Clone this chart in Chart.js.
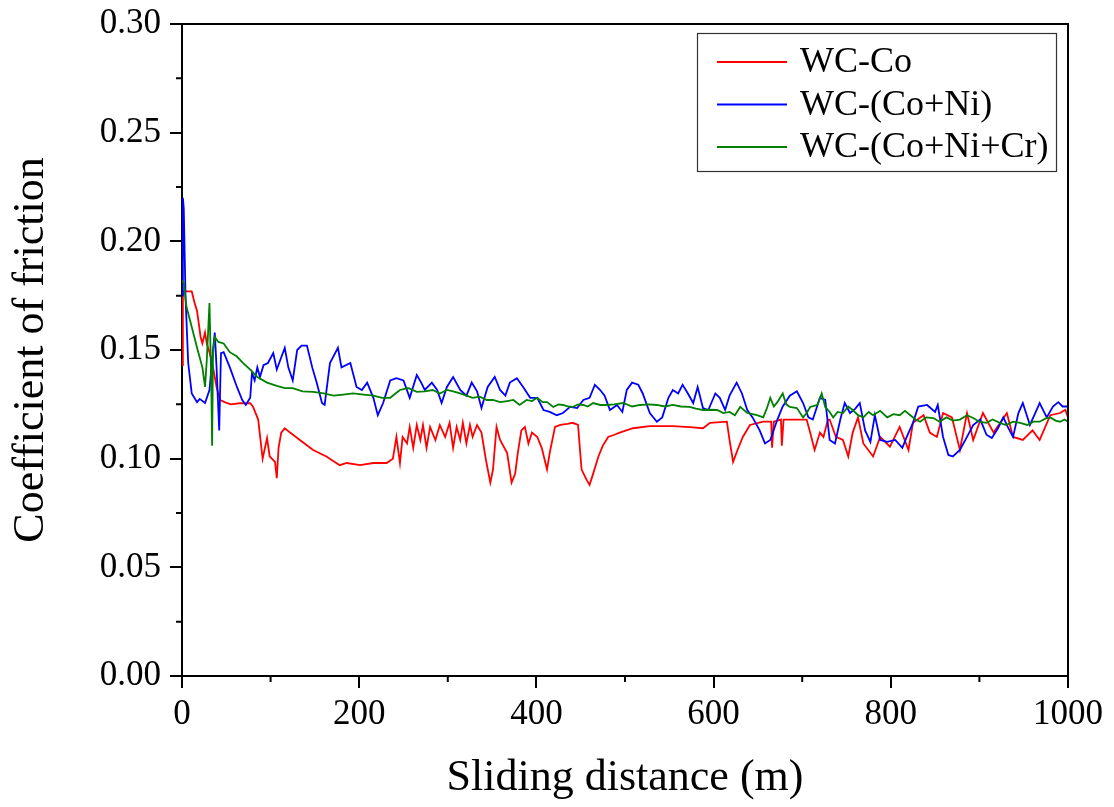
<!DOCTYPE html>
<html>
<head>
<meta charset="utf-8">
<script src="https://cdn.jsdelivr.net/npm/chart.js@4.4.1/dist/chart.umd.min.js"></script>
<style>
html,body{margin:0;padding:0;background:#fff;}
#wrap{width:1114px;height:807px;}
</style>
</head>
<body>
<div id="wrap"><canvas id="c" width="1114" height="807"></canvas></div>
<script>
const seriesNames = ["WC-Co", "WC-(Co+Ni)", "WC-(Co+Ni+Cr)"];
const xTitle = "Sliding distance (m)";
const yTitle = "Coefficient of friction";

const coX = [0,1,5,11,14,17,21,23,26,28,31,35,39,43,48,55,65,77,80,86,91,96,99,105,107,109,112,116,122,133,148,163,178,186,201,216,231,238,240,242,246,249,254,257,261,265,269,272,276,280,286,291,297,302,306,310,314,317,321,325,328,333,338,343,348,351,355,359,367,372,376,379,383,387,391,395,401,406,412,415,421,427,435,441,447,449,451,457,460,464,470,475,481,488,494,509,528,554,573,588,596,615,618,622,627,633,641,656,665,666,668,676,677,679,686,705,709,714,720,724,729,731,738,746,752,757,763,769,780,788,799,810,820,825,837,844,852,859,869,878,886,893,904,916,931,938,949,960,968,980,991,997,1000];
const coY = [0.143,0.177,0.177,0.177,0.172,0.168,0.156,0.153,0.158,0.153,0.149,0.142,0.133,0.127,0.126,0.125,0.1255,0.1255,0.124,0.118,0.100,0.1095,0.101,0.0985,0.091,0.105,0.112,0.114,0.112,0.1086,0.104,0.101,0.097,0.098,0.097,0.098,0.098,0.100,0.105,0.110,0.098,0.110,0.107,0.1146,0.105,0.1155,0.1086,0.1155,0.105,0.1146,0.1086,0.1155,0.110,0.1165,0.105,0.1146,0.1086,0.1165,0.107,0.1155,0.110,0.1155,0.112,0.0995,0.089,0.095,0.1146,0.1086,0.1026,0.089,0.093,0.1026,0.113,0.1146,0.107,0.112,0.110,0.105,0.095,0.1026,0.1146,0.1155,0.116,0.1165,0.1155,0.105,0.095,0.090,0.088,0.093,0.101,0.106,0.110,0.111,0.112,0.114,0.115,0.115,0.1145,0.114,0.1165,0.117,0.1085,0.0985,0.104,0.110,0.1155,0.117,0.117,0.105,0.117,0.118,0.106,0.118,0.118,0.118,0.112,0.104,0.112,0.110,0.118,0.118,0.110,0.1086,0.101,0.112,0.119,0.107,0.101,0.110,0.1055,0.1146,0.104,0.1165,0.120,0.112,0.110,0.121,0.119,0.104,0.121,0.1086,0.121,0.112,0.121,0.110,0.1086,0.113,0.1086,0.120,0.121,0.1225,0.119];

const coNiX = [0,1,2,4,7,11,17,20,26,31,35,37,39,42,44,47,54,62,68,72,77,79,82,85,88,92,97,103,107,111,116,120,125,130,135,141,147,152,158,161,167,176,180,190,197,203,209,216,221,227,235,242,250,257,265,270,274,282,288,293,299,306,314,321,327,333,338,345,353,359,365,370,378,385,393,401,408,415,423,430,438,446,453,460,466,472,477,483,491,497,502,508,515,520,528,536,542,549,554,560,565,571,577,582,588,594,602,607,613,618,626,632,638,644,652,658,664,672,678,686,694,701,707,712,720,726,731,737,743,748,754,760,765,771,777,782,788,796,805,813,818,825,831,841,850,853,859,865,870,878,886,893,901,908,914,921,927,932,938,944,949,957,963,968,976,983,989,994,1000];
const coNiY = [0.175,0.220,0.215,0.174,0.144,0.130,0.126,0.1275,0.1256,0.1316,0.150,0.158,0.142,0.113,0.1486,0.149,0.142,0.133,0.127,0.1247,0.128,0.1394,0.136,0.142,0.1376,0.143,0.144,0.1486,0.141,0.1455,0.151,0.142,0.136,0.150,0.152,0.152,0.142,0.135,0.1256,0.1247,0.144,0.151,0.142,0.144,0.133,0.1316,0.135,0.128,0.120,0.1256,0.136,0.137,0.136,0.128,0.1385,0.135,0.1316,0.135,0.1316,0.1256,0.133,0.1376,0.1316,0.129,0.135,0.131,0.1233,0.133,0.1376,0.1316,0.129,0.135,0.137,0.133,0.128,0.128,0.1224,0.1215,0.120,0.121,0.1238,0.1233,0.127,0.128,0.134,0.1316,0.129,0.1224,0.1247,0.1215,0.1316,0.135,0.134,0.130,0.121,0.117,0.119,0.128,0.1316,0.130,0.134,0.130,0.1256,0.133,0.1233,0.1224,0.130,0.128,0.1224,0.129,0.135,0.130,0.1224,0.119,0.113,0.107,0.1086,0.118,0.124,0.129,0.131,0.1256,0.119,0.118,0.128,0.127,0.1086,0.107,0.118,0.1256,0.121,0.123,0.1256,0.113,0.1077,0.120,0.1086,0.1077,0.1086,0.105,0.110,0.1165,0.124,0.1247,0.1215,0.1247,0.110,0.1017,0.101,0.104,0.110,0.1155,0.118,0.111,0.1095,0.114,0.119,0.1146,0.110,0.121,0.1256,0.1155,0.121,0.1256,0.119,0.124,0.126,0.124,0.124];

const coNiCrX = [0,2,5,11,17,23,26,28,31,33,34,35,37,41,47,54,62,69,77,85,96,107,116,125,136,148,160,171,182,193,205,216,226,235,241,246,255,265,274,283,291,299,306,314,321,328,336,344,351,359,367,374,381,389,395,401,407,412,419,425,430,436,441,447,453,458,464,472,479,488,498,508,517,527,536,545,554,563,573,580,588,596,604,611,618,624,630,638,644,649,656,660,664,668,672,678,682,686,694,701,705,709,717,722,726,731,735,740,746,752,757,763,769,775,780,788,796,803,810,816,822,828,833,840,848,855,863,870,878,886,893,900,908,915,923,930,938,946,954,961,968,975,980,986,991,996,1000];
const coNiCrY = [0.182,0.181,0.170,0.1606,0.151,0.142,0.133,0.1455,0.1716,0.136,0.106,0.1486,0.156,0.1537,0.153,0.149,0.147,0.144,0.141,0.1376,0.135,0.1335,0.1325,0.1325,0.131,0.1307,0.130,0.129,0.1295,0.130,0.1295,0.129,0.128,0.128,0.130,0.1316,0.1325,0.1307,0.131,0.1316,0.130,0.1316,0.131,0.130,0.129,0.128,0.1285,0.127,0.127,0.126,0.1265,0.127,0.1247,0.127,0.1265,0.128,0.126,0.126,0.1238,0.125,0.1247,0.124,0.1238,0.125,0.1247,0.124,0.1256,0.1247,0.1247,0.125,0.1256,0.124,0.1247,0.125,0.1247,0.124,0.1247,0.124,0.1238,0.123,0.1224,0.1225,0.1224,0.121,0.1215,0.120,0.1238,0.121,0.1205,0.120,0.119,0.123,0.128,0.124,0.126,0.130,0.125,0.1238,0.1233,0.119,0.121,0.1238,0.1247,0.130,0.1238,0.1215,0.119,0.1215,0.121,0.124,0.1224,0.120,0.119,0.1215,0.120,0.122,0.119,0.1205,0.120,0.122,0.120,0.118,0.117,0.119,0.1187,0.117,0.119,0.1175,0.118,0.120,0.1187,0.117,0.1165,0.118,0.1165,0.1155,0.117,0.1165,0.1155,0.117,0.117,0.1185,0.119,0.1175,0.117,0.118,0.117];

const xTicks = [0,200,400,600,800,1000];
const yTicks = [0.00,0.05,0.10,0.15,0.20,0.25,0.30];
const xMinorTicks = [100,300,500,700,900];
const yMinorTicks = [0.025,0.075,0.125,0.175,0.225,0.275];

const colors = ["#ff0000", "#0000ff", "#008000"];
const FONT = "'Liberation Serif', 'Times New Roman', serif";

function pts(xs, ys){ return xs.map((x,i)=>({x:x, y:ys[i]})); }

const framePlugin = {
  id: 'frame',
  afterDatasetsDraw(chart){
    const {ctx, chartArea:a, scales} = chart;
    ctx.save();
    ctx.strokeStyle = '#000';
    ctx.lineWidth = 2;
    ctx.beginPath();
    ctx.moveTo(a.left, a.top); ctx.lineTo(a.right, a.top); ctx.lineTo(a.right, a.bottom);
    ctx.stroke();
    // minor ticks
    ctx.beginPath();
    yMinorTicks.forEach(v=>{ const p = scales.y.getPixelForValue(v); ctx.moveTo(a.left-6, p); ctx.lineTo(a.left, p); });
    xMinorTicks.forEach(v=>{ const p = scales.x.getPixelForValue(v); ctx.moveTo(p, a.bottom); ctx.lineTo(p, a.bottom+6); });
    ctx.stroke();
    // legend
    const bx0 = a.right - 371, by0 = a.top + 9, bw = 359, bh = 138;
    ctx.fillStyle = '#fff';
    ctx.fillRect(bx0, by0, bw, bh);
    ctx.lineWidth = 1.2;
    ctx.strokeStyle = '#333';
    ctx.strokeRect(bx0+0.5, by0+0.5, bw, bh);
    ctx.font = "36px " + FONT;
    ctx.textBaseline = 'middle';
    ctx.textAlign = 'left';
    chart.data.datasets.forEach((ds, i)=>{
      const yy = by0 + 29 + i*42.5;
      ctx.strokeStyle = ds.borderColor;
      ctx.lineWidth = 1.8;
      ctx.beginPath(); ctx.moveTo(bx0+20, yy); ctx.lineTo(bx0+90, yy); ctx.stroke();
      ctx.fillStyle = '#000';
      ctx.fillText(ds.label, bx0+103, yy+1);
    });
    ctx.restore();
  }
};

new Chart(document.getElementById('c'), {
  type: 'line',
  data: {
    datasets: [
      {label: seriesNames[0], data: pts(coX, coY), borderColor: colors[0], order: 2},
      {label: seriesNames[1], data: pts(coNiX, coNiY), borderColor: colors[1], order: 1},
      {label: seriesNames[2], data: pts(coNiCrX, coNiCrY), borderColor: colors[2], order: 0}
    ]
  },
  options: {
    responsive: false,
    animation: false,
    elements: { point: {radius: 0}, line: {borderWidth: 1.8, tension: 0, fill: false} },
    layout: { padding: {left: 0, top: 24, right: 46, bottom: 0} },
    plugins: { legend: {display: false}, tooltip: {enabled: false} },
    scales: {
      x: {
        type: 'linear', min: 0, max: 1000,
        afterBuildTicks(s){ s.ticks = xTicks.map(v=>({value:v})); },
        afterFit(s){ s.height = 131; s.paddingLeft = 0; s.paddingRight = 0; },
        border: {display: true, color: '#000', width: 2},
        grid: {display: true, drawOnChartArea: false, drawTicks: true, tickLength: 12, color: '#000', lineWidth: 2},
        ticks: {color: '#000', font: {family: FONT, size: 35}, padding: 6, maxRotation: 0, callback: v => String(v)},
        title: {display: true, text: xTitle, color: '#000', font: {family: FONT, size: 44}, padding: {top: 0, bottom: 2}}
      },
      y: {
        type: 'linear', min: 0, max: 0.3,
        afterBuildTicks(s){ s.ticks = yTicks.map(v=>({value:v})); },
        afterFit(s){ s.width = 182; s.paddingTop = 0; s.paddingBottom = 0; },
        border: {display: true, color: '#000', width: 2},
        grid: {display: true, drawOnChartArea: false, drawTicks: true, tickLength: 12, color: '#000', lineWidth: 2},
        ticks: {color: '#000', font: {family: FONT, size: 35}, padding: 9, callback: v => Number(v).toFixed(2)},
        title: {display: true, text: yTitle, color: '#000', font: {family: FONT, size: 44}, padding: {top: 5, bottom: 0}}
      }
    }
  },
  plugins: [framePlugin]
});
</script>
</body>
</html>
